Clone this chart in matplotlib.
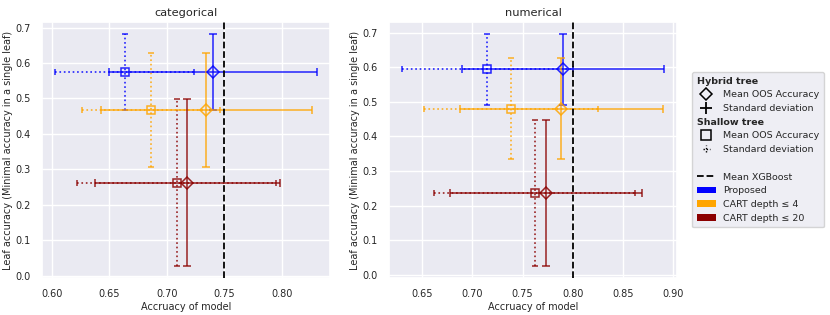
import matplotlib
matplotlib.use("Agg")
import matplotlib.pyplot as plt
import seaborn as sns
from matplotlib.lines import Line2D
from matplotlib.patches import Patch
from matplotlib.legend_handler import HandlerBase

sns.set_theme(style="darkgrid")
plt.rcParams['font.family'] = ['DejaVu Sans']

# ---------------- data ----------------
methods = ['Proposed', 'CART depth ≤ 4', 'CART depth ≤ 20']
colors = ['blue', 'orange', 'darkred']
panels = ['categorical', 'numerical']

# categorical
cat_hyb_x = [0.740, 0.7345, 0.718]
cat_hyb_xerr = [0.0905, 0.0915, 0.080]
cat_sh_x = [0.6635, 0.6865, 0.7085]
cat_sh_xerr = [0.0605, 0.060, 0.0865]
cat_leaf = [0.575, 0.467, 0.262]
cat_leaf_err = [0.108, 0.161, 0.236]

# numerical
num_hyb_x = [0.7905, 0.7885, 0.773]
num_hyb_xerr = [0.1003, 0.101, 0.0956]
num_sh_x = [0.7151, 0.7388, 0.762]
num_sh_xerr = [0.085, 0.0865, 0.100]
num_leaf = [0.594, 0.480, 0.237]
num_leaf_err = [0.103, 0.146, 0.212]

xgb_mean = [0.7495, 0.8005]

data = {
    'categorical': (cat_hyb_x, cat_hyb_xerr, cat_sh_x, cat_sh_xerr, cat_leaf, cat_leaf_err),
    'numerical': (num_hyb_x, num_hyb_xerr, num_sh_x, num_sh_xerr, num_leaf, num_leaf_err),
}

# ---------------- figure ----------------
fig = plt.figure(figsize=(8.3, 3.15), dpi=100)
ax1 = fig.add_axes([0.0506, 0.1175, 0.347, 0.8127])
ax2 = fig.add_axes([0.4687, 0.1175, 0.347, 0.8127])

for ax, name, xgb in zip([ax1, ax2], panels, xgb_mean):
    hx, hxe, sx, sxe, ly, lye = data[name]
    for i, c in enumerate(colors):
        eb = ax.errorbar(sx[i], ly[i], xerr=sxe[i], yerr=lye[i], fmt='s', color=c,
                         mfc='none', mec=c, ms=6.3, mew=1.1, elinewidth=1.2,
                         capsize=2, capthick=1.2, alpha=0.85, zorder=2)
        for lc in eb[2]:
            lc.set_linestyle(':')
        eb = ax.errorbar(hx[i], ly[i], xerr=hxe[i], yerr=lye[i], fmt='D', color=c,
                         mfc='none', mec=c, ms=6, mew=1.1, elinewidth=1.1,
                         capsize=3, capthick=1.1, alpha=0.85, zorder=3)
    ax.axvline(xgb, color='black', ls='--', lw=1.3, zorder=4)
    ax.set_title(name, fontsize=8.2, pad=4)
    ax.set_xlabel('Accruacy of model', fontsize=7, labelpad=2)
    ax.set_ylabel('Leaf accuracy (Minimal accuracy in a single leaf)', fontsize=7, labelpad=1.5)
    ax.tick_params(labelsize=7, pad=2)

ax1.set_xticks([0.60, 0.65, 0.70, 0.75, 0.80])
ax2.set_xticks([0.65, 0.70, 0.75, 0.80, 0.85, 0.90])
for ax in (ax1, ax2):
    ax.xaxis.set_major_formatter(matplotlib.ticker.FormatStrFormatter('%.2f'))
    ax.set_yticks([0.0, 0.1, 0.2, 0.3, 0.4, 0.5, 0.6, 0.7])


# ---------------- legend ----------------
class DottedCross:
    pass


class HandlerDottedCross(HandlerBase):
    def create_artists(self, legend, orig_handle, xdescent, ydescent, width,
                       height, fontsize, trans):
        cx = width / 2 - xdescent
        cy = height / 2 - ydescent
        s = height * 0.55
        kw = dict(color='black', lw=1.0, transform=trans, dashes=(1.0, 1.3))
        l1 = Line2D([cx - s, cx + s], [cy, cy], **kw)
        l2 = Line2D([cx, cx], [cy - s, cy + s], **kw)
        return [l1, l2]


empty = Line2D([], [], ls='none')
handles = [
    empty,
    Line2D([], [], ls='none', marker='D', mfc='none', mec='black', ms=6.5, mew=1.1),
    Line2D([], [], ls='none', marker='+', color='black', ms=8, mew=1.3),
    empty,
    Line2D([], [], ls='none', marker='s', mfc='none', mec='black', ms=7, mew=1.1),
    DottedCross(),
    empty,
    Line2D([], [], color='black', ls='--', lw=1.3),
] + [Patch(facecolor=c, edgecolor='none') for c in colors]
labels = ['Hybrid tree', 'Mean OOS Accuracy', 'Standard deviation',
          'Shallow tree', 'Mean OOS Accuracy', 'Standard deviation', ' ',
          'Mean XGBoost'] + methods

leg = fig.legend(handles, labels, loc='upper left', bbox_to_anchor=(0.834, 0.772),
                 fontsize=6.8, handler_map={DottedCross: HandlerDottedCross()},
                 labelspacing=0.5, handlelength=2.0, handletextpad=0.8,
                 borderpad=0.5, borderaxespad=0.0)
texts = leg.get_texts()
for i in (0, 3):
    texts[i].set_fontweight('bold')
# remove handle space for header rows
try:
    rows = []
    for col in leg._legend_handle_box.get_children():
        rows.extend(col.get_children())
    for i in (0, 3):
        rows[i].get_children()[0].width = 0
        rows[i].sep = 0
except Exception:
    pass

fig.savefig('out.png', dpi=100)
